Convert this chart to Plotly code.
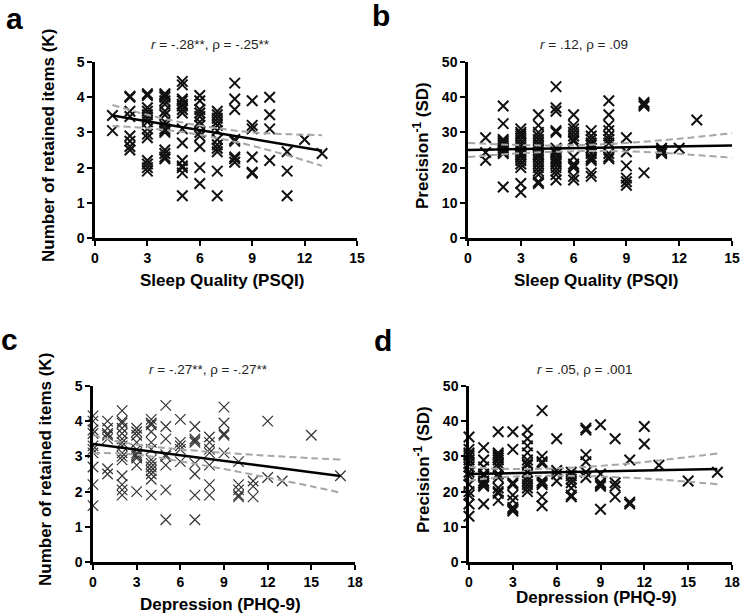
import plotly.graph_objects as go

# ---------------- data ----------------
# Panel a: Sleep quality (PSQI) vs number of retained items (K)
a_x = ([1]*2 + [2]*8 + [3]*14 + [4]*16 + [5]*15 + [6]*12 + [7]*12 + [8]*8 +
       [9]*6 + [10]*4 + [11]*3 + [12] + [13])
a_y = ([3.48, 3.05] +
       [4.0, 4.03, 3.6, 3.45, 2.9, 2.75, 2.6, 2.5] +
       [4.1, 4.05, 3.7, 3.6, 3.5, 3.4, 3.3, 3.1, 2.95, 2.85, 2.2, 2.1, 2.0, 1.9] +
       [4.1, 4.05, 4.0, 3.9, 3.8, 3.6, 3.5, 3.3, 3.2, 3.1, 3.05, 3.0, 2.5, 2.4, 2.3, 2.25] +
       [4.45, 4.35, 3.95, 3.9, 3.8, 3.75, 3.65, 3.55, 3.1, 2.7, 2.2, 2.05, 2.0, 1.85, 1.2] +
       [4.05, 3.9, 3.65, 3.55, 3.45, 3.3, 3.2, 3.0, 2.9, 2.6, 2.0, 1.55] +
       [3.6, 3.5, 3.4, 3.3, 3.2, 3.05, 2.8, 2.65, 2.55, 2.45, 1.9, 1.2] +
       [4.4, 3.95, 3.65, 2.8, 2.75, 2.3, 2.25, 2.15] +
       [3.9, 3.2, 3.1, 2.3, 1.87, 1.84] +
       [4.0, 3.5, 3.1, 2.2] +
       [2.45, 1.9, 1.2] + [2.8] + [2.4])
a_fit_x = [1, 3, 5, 7, 9, 11, 13]
a_fit_y = [3.48, 3.31, 3.145, 2.98, 2.81, 2.65, 2.48]
a_ci_hi = [3.78, 3.5, 3.28, 3.12, 3.0, 2.95, 2.92]
a_ci_lo = [3.18, 3.12, 3.01, 2.84, 2.62, 2.35, 2.05]

# Panel b: Sleep quality (PSQI) vs precision^-1 (SD)
b_x = ([1]*3 + [2]*12 + [3]*17 + [4]*18 + [5]*17 + [6]*13 + [7]*12 + [8]*10 +
       [9]*6 + [10]*4 + [11]*4 + [12] + [13])
b_y = ([28.5, 24.3, 22.1] +
       [37.5, 32.5, 28, 27.5, 27, 26.5, 26, 25.5, 25, 24.5, 24, 14.5] +
       [31, 30, 29.5, 29, 28, 27, 26, 25, 24.5, 24, 23.5, 23, 22, 21, 20, 15.5, 13] +
       [35, 32, 30, 29, 28, 27, 26, 25, 24, 23.5, 23, 22, 21, 20, 19, 18, 16, 15.5] +
       [43, 37, 36, 30.5, 30, 25.5, 24.5, 24, 23, 22.5, 22, 21.5, 21, 20, 19, 18, 16.5] +
       [35, 32, 31, 30, 29, 28, 27.5, 23, 21, 20.5, 20, 17.5, 16.5] +
       [30.5, 29, 28, 27, 26.5, 25.5, 24, 23, 22.5, 22, 18.5, 17.5] +
       [39, 35, 32, 30.5, 29, 28, 27, 24, 23, 22.5] +
       [28.5, 24.5, 20.5, 17, 16, 15] +
       [38.5, 38, 37.5, 18.5] +
       [25.5, 25, 24.5, 24] + [25.5] + [33.5])
b_fit_x = [0, 3, 5, 7, 9, 12, 15]
b_fit_y = [25.0, 25.26, 25.43, 25.6, 25.78, 26.04, 26.3]
b_ci_hi = [27.0, 26.4, 26.3, 26.5, 27.0, 28.2, 29.8]
b_ci_lo = [23.0, 24.1, 24.5, 24.7, 24.6, 23.9, 22.8]

# Panel c: Depression (PHQ-9) vs number of retained items (K)
c_x = ([0]*10 + [1]*7 + [2]*15 + [3]*11 + [4]*13 + [5]*8 + [6]*5 + [7]*8 +
       [8]*7 + [9]*5 + [10]*5 + [11]*3 + [12]*2 + [13] + [15] + [17])
c_y = ([4.15, 4.0, 3.75, 3.65, 3.3, 3.2, 3.1, 2.7, 2.2, 1.6] +
       [4.0, 3.8, 3.65, 3.6, 3.5, 2.65, 2.5] +
       [4.3, 4.0, 3.95, 3.8, 3.65, 3.5, 3.4, 3.3, 3.1, 3.0, 2.9, 2.45, 2.2, 2.05, 1.9] +
       [3.8, 3.7, 3.6, 3.4, 3.2, 3.1, 3.05, 3.0, 2.95, 2.75, 2.0] +
       [4.05, 3.95, 3.9, 3.7, 3.4, 3.2, 2.9, 2.8, 2.7, 2.6, 2.5, 2.35, 1.9] +
       [4.45, 3.85, 3.5, 3.05, 3.0, 2.75, 2.05, 1.2] +
       [4.05, 3.4, 3.3, 3.2, 2.85] +
       [3.85, 3.5, 3.45, 3.4, 2.8, 2.5, 1.9, 1.2] +
       [3.55, 3.4, 3.2, 3.1, 2.75, 2.2, 1.9] +
       [4.4, 3.95, 3.65, 3.6, 3.1] +
       [2.85, 2.2, 2.05, 1.9, 1.85] +
       [2.3, 2.15, 1.85] + [4.0, 2.4] + [2.3] + [3.6] + [2.45])
c_fit_x = [0, 2, 4, 6, 9, 12, 15, 17]
c_fit_y = [3.35, 3.24, 3.14, 3.03, 2.87, 2.71, 2.55, 2.44]
c_ci_hi = [3.6, 3.4, 3.28, 3.2, 3.1, 3.02, 2.95, 2.91]
c_ci_lo = [3.1, 3.08, 3.0, 2.86, 2.64, 2.4, 2.15, 1.97]

# Panel d: Depression (PHQ-9) vs precision^-1 (SD)
d_x = ([0]*15 + [1]*10 + [2]*14 + [3]*9 + [4]*13 + [5]*9 + [6]*4 + [7]*7 +
       [8]*6 + [9]*6 + [10]*4 + [11]*3 + [12]*2 + [13] + [15] + [17])
d_y = ([35.5, 32, 31, 30.5, 30, 29, 28, 27, 25.5, 24.5, 22, 20, 19, 16.5, 13] +
       [32.5, 29, 27, 25, 24.5, 23, 22.5, 22, 21.5, 16.5] +
       [37, 31, 30.5, 30, 29.5, 29, 28, 27, 25, 24, 21, 20, 19.5, 17.5] +
       [37, 32, 22.5, 22, 19, 17.5, 15.5, 15, 14.5] +
       [37.5, 35, 33, 31, 29, 28, 27.5, 25.5, 24, 23, 22, 21, 20] +
       [43, 30, 28.5, 28, 23, 22.5, 22, 18.5, 16] +
       [35, 26, 25, 23] +
       [25.5, 24.5, 23.5, 22.5, 21, 19, 18.5] +
       [38, 37.5, 30.5, 28.5, 25.5, 24] +
       [39, 25, 22.5, 22, 21.5, 15] +
       [35, 22.5, 21.5, 18.5] +
       [29, 17, 16.5] + [38.5, 33.5] + [27.5] + [23] + [25.5])
d_fit_x = [0, 2, 4, 6, 9, 12, 15, 17]
d_fit_y = [25.0, 25.17, 25.34, 25.51, 25.77, 26.02, 26.28, 26.45]
d_ci_hi = [27.0, 26.5, 26.4, 26.6, 27.3, 28.4, 29.8, 30.8]
d_ci_lo = [23.1, 24.0, 24.4, 24.5, 24.3, 23.7, 22.8, 22.1]

# tick labels
psqi_ticks = [0, 3, 6, 9, 12, 15]
phq_ticks = [0, 3, 6, 9, 12, 15, 18]
k_ticks = [0, 1, 2, 3, 4, 5]
sd_ticks = [0, 10, 20, 30, 40, 50]

titles = ["<i>r</i> = -.28**, ρ = -.25**", "<i>r</i> = .12, ρ = .09",
          "<i>r</i> = -.27**, ρ = -.27**", "<i>r</i> = .05, ρ = .001"]
panel_letters = ["a", "b", "c", "d"]
x_titles = ["Sleep Quality (PSQI)", "Sleep Quality (PSQI)",
            "Depression (PHQ-9)", "Depression (PHQ-9)"]
y_titles = ["Number of retained items (K)", "Precision<sup>-1</sup> (SD)",
            "Number of retained items (K)", "Precision<sup>-1</sup> (SD)"]

# ---------------- figure ----------------
W, H = 741, 615
FONT = "Liberation Sans, Arial, sans-serif"

panels = [
    dict(x=a_x, y=a_y, fx=a_fit_x, fy=a_fit_y, hi=a_ci_hi, lo=a_ci_lo,
         px=(95, 357), py=(62, 238), xr=15, yr=5, xt=psqi_ticks, yt=k_ticks, mw=2.0, mc="#111"),
    dict(x=b_x, y=b_y, fx=b_fit_x, fy=b_fit_y, hi=b_ci_hi, lo=b_ci_lo,
         px=(468, 732), py=(62, 238), xr=15, yr=50, xt=psqi_ticks, yt=sd_ticks, mw=2.0, mc="#111"),
    dict(x=c_x, y=c_y, fx=c_fit_x, fy=c_fit_y, hi=c_ci_hi, lo=c_ci_lo,
         px=(93, 355), py=(386, 562), xr=18, yr=5, xt=phq_ticks, yt=k_ticks, mw=1.2, mc="#333"),
    dict(x=d_x, y=d_y, fx=d_fit_x, fy=d_fit_y, hi=d_ci_hi, lo=d_ci_lo,
         px=(469, 732), py=(386, 562), xr=18, yr=50, xt=phq_ticks, yt=sd_ticks, mw=2.0, mc="#111"),
]

fig = go.Figure()
layout = dict(width=W, height=H, margin=dict(l=0, r=0, t=0, b=0, pad=0),
              paper_bgcolor="white", plot_bgcolor="white", showlegend=False,
              font=dict(family=FONT, color="black"))
annotations = []


def ann(text, px, py, size, color="black", angle=0):
    return dict(text=text, x=px / W, y=(H - py) / H, xref="paper", yref="paper",
                xanchor="center", yanchor="middle", showarrow=False, textangle=angle,
                font=dict(size=size, color=color, family=FONT))


for i, p in enumerate(panels):
    n = "" if i == 0 else str(i + 1)
    xa, ya = "x" + n, "y" + n
    fig.add_trace(go.Scatter(x=p["x"], y=p["y"], mode="markers", xaxis=xa, yaxis=ya,
                             marker=dict(symbol="x-thin-open", size=10.5, color=p["mc"],
                                         line=dict(width=p["mw"], color=p["mc"])),
                             cliponaxis=False))
    for ci in (p["hi"], p["lo"]):
        fig.add_trace(go.Scatter(x=p["fx"], y=ci, mode="lines", xaxis=xa, yaxis=ya,
                                 line=dict(color="#a6a6a6", width=2, dash="7px,4px",
                                           shape="spline")))
    fig.add_trace(go.Scatter(x=p["fx"], y=p["fy"], mode="lines", xaxis=xa, yaxis=ya,
                             line=dict(color="black", width=2.5)))

    x0, x1 = p["px"][0] / W, p["px"][1] / W
    y0, y1 = (H - p["py"][1]) / H, (H - p["py"][0]) / H
    axis_common = dict(showline=True, linecolor="black", linewidth=2.5,
                       ticks="outside", ticklen=5, tickwidth=2, tickcolor="black",
                       showgrid=False, zeroline=False, automargin=False,
                       tickfont=dict(family=FONT, size=14, color="black"))
    layout["xaxis" + n] = dict(axis_common, domain=[x0, x1], range=[0, p["xr"]],
                               tickmode="array", tickvals=p["xt"],
                               ticktext=["<b>%d</b>" % v for v in p["xt"]], anchor=ya)
    layout["yaxis" + n] = dict(axis_common, domain=[y0, y1], range=[0, p["yr"]],
                               tickmode="array", tickvals=p["yt"],
                               ticktext=["<b>%d</b>" % v for v in p["yt"]], anchor=xa)

    cx = (p["px"][0] + p["px"][1]) / 2
    cy = (p["py"][0] + p["py"][1]) / 2
    annotations.append(ann(titles[i], cx - 16, p["py"][0] - 17, 13.5, "#222"))
    xt_y = p["py"][1] + (42 if i != 3 else 35)
    annotations.append(ann("<b>" + x_titles[i] + "</b>", cx - 4, xt_y, 17))
    annotations.append(ann("<b>" + y_titles[i] + "</b>", p["px"][0] - 47, cy - 4, 17, angle=-90))

letter_pos = [(14, 18), (381, 16), (9, 339), (383, 340)]
for L, (lx, ly) in zip(panel_letters, letter_pos):
    annotations.append(ann("<b>" + L + "</b>", lx, ly, 30))

layout["annotations"] = annotations
fig.update_layout(**layout)
fig.write_html("out.html", config={"displayModeBar": False},
               post_script="document.body.style.margin='0';document.body.style.overflow='hidden';")
